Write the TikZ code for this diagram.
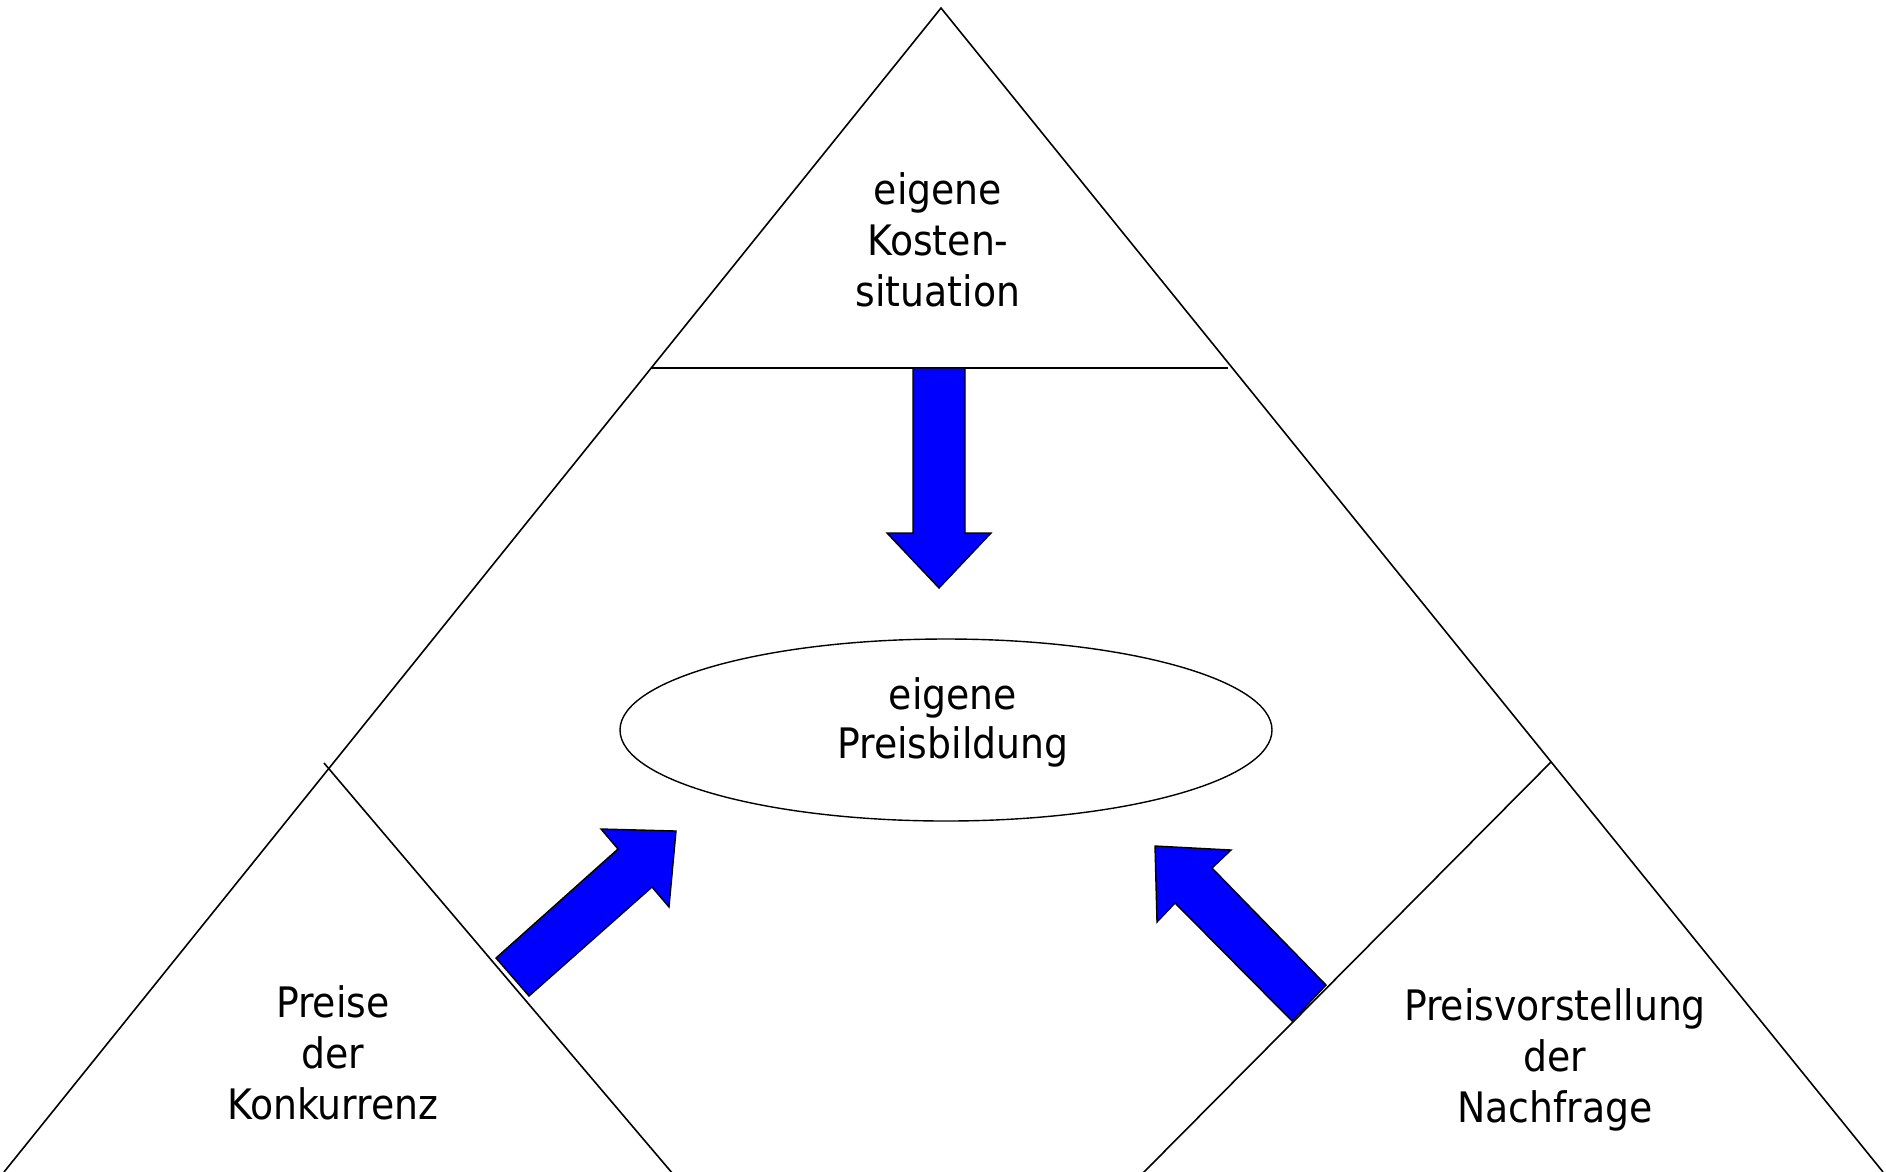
\documentclass[tikz,border=0pt]{standalone}
\usepackage{fontspec}
\setmainfont{DejaVu Sans Condensed}
\usetikzlibrary{shapes.geometric}
\definecolor{arrowblue}{RGB}{0,0,255}
\begin{document}
\begin{tikzpicture}[x=1pt,y=-1pt,
  frame/.style={line width=1.6pt,black},
  blockarrow/.style={fill=arrowblue,draw=black,line width=1.4pt,line join=miter},
  label/.style={align=center,inner sep=0pt,font=\fontsize{42}{51}\selectfont}]
  \useasboundingbox (0,0) rectangle (1886,1171);
  \clip (0,0) rectangle (1886,1171);

  % outer triangle
  \coordinate (apex) at (941,8);
  \coordinate (bl) at (4,1172);
  \coordinate (br) at (1883,1172);
  \draw[frame] (bl) -- (apex) -- (br);

  % top section divider
  \coordinate (hl) at (651,368);
  \coordinate (hr) at (1228,368);
  \draw[frame] (hl) -- (hr);

  % lower corner dividers
  \coordinate (ls) at (324,763);
  \coordinate (le) at (673,1174);
  \draw[frame] (ls) -- (le);
  \coordinate (rs) at (1551,762);
  \coordinate (re) at (1142,1174);
  \draw[frame] (rs) -- (re);

  % labels
  \node[label] (kosten) at (938,240) {eigene\\Kosten-\\situation};
  \node[ellipse,draw,line width=1.4pt,minimum width=652pt,minimum height=182pt,
        inner sep=0pt] (preis) at (946,730) {};
  \node[label,font=\fontsize{42}{49}\selectfont] (preistext) at (953,722)
        {eigene\\Preisbildung};
  \node[label] (konk) at (333,1053) {Preise\\der\\Konkurrenz};
  \node[label] (nachf) at (1555,1060) {Preisvorstellung\\der\\Nachfrage};

  % block arrows
  \draw[blockarrow] (913,368) -- (965,368) -- (965,533) -- (991,533)
        -- (939,588) -- (887,533) -- (913,533) -- cycle;
  \draw[blockarrow] (496,958) -- (618,849) -- (601,829) -- (676,831)
        -- (669,907) -- (652,887) -- (529,996) -- cycle;
  \draw[blockarrow] (1326,985) -- (1212,868) -- (1231,850) -- (1155,846)
        -- (1157,922) -- (1175,903) -- (1292,1021) -- cycle;
\end{tikzpicture}
\end{document}
